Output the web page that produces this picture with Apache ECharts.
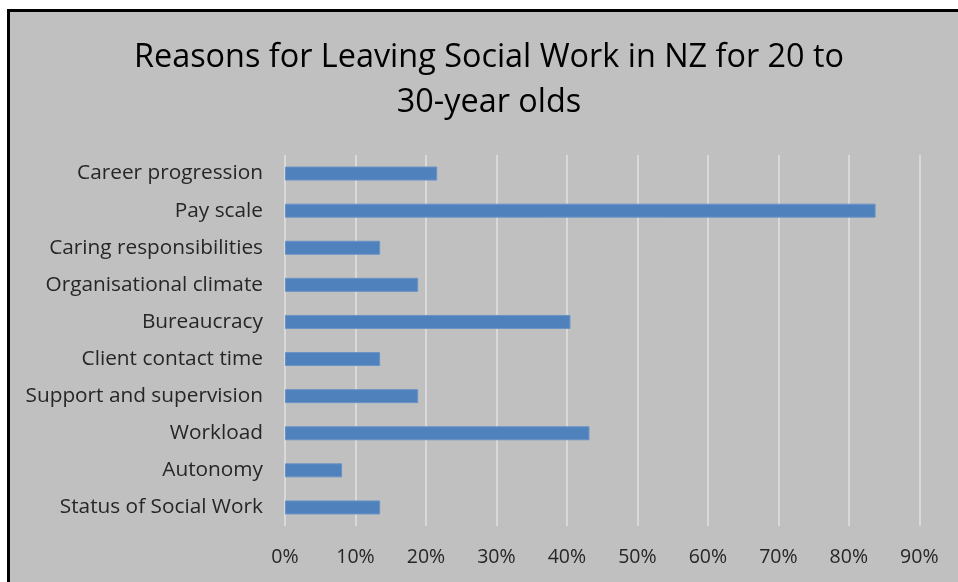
<!DOCTYPE html>
<html>
<head>
<meta charset="utf-8">
<title>Reasons for Leaving Social Work in NZ</title>
<script src="https://cdn.jsdelivr.net/npm/echarts@6/dist/echarts.min.js"></script>
<style>
  html, body { margin: 0; padding: 0; background: #ffffff; }
  #frame {
    position: absolute; left: 7px; top: 9px; right: 0; bottom: 0;
    background: #c0c0c0;
    border-left: 3px solid #000000;
    border-top: 3px solid #000000;
  }
  #chart { position: absolute; left: 0; top: 0; width: 958px; height: 582px; }
</style>
</head>
<body>
<div id="frame"></div>
<div id="chart"></div>
<script>
// Reasons given, top to bottom
const categories = [
  'Career progression',
  'Pay scale',
  'Caring responsibilities',
  'Organisational climate',
  'Bureaucracy',
  'Client contact time',
  'Support and supervision',
  'Workload',
  'Autonomy',
  'Status of Social Work'
];

// Share of respondents citing each reason (fraction)
const shares = [0.216, 0.838, 0.135, 0.189, 0.405, 0.135, 0.189, 0.432, 0.081, 0.135];

// Value axis tick labels
const tickLabels = ['0%', '10%', '20%', '30%', '40%', '50%', '60%', '70%', '80%', '90%'];

const fontFamily = '"Open Sans", "Noto Sans", sans-serif';

const chart = echarts.init(document.getElementById('chart'), null, { renderer: 'canvas' });

chart.setOption({
  backgroundColor: 'transparent',
  animation: false,
  title: {
    text: 'Reasons for Leaving Social Work in NZ for 20 to\n30-year olds',
    left: 484,
    textAlign: 'center',
    top: 30,
    textStyle: {
      fontFamily: fontFamily,
      fontSize: 32.4,
      fontWeight: 'normal',
      color: '#000000',
      lineHeight: 45
    }
  },
  grid: {
    left: 285,
    right: 38.7,
    top: 155,
    bottom: 56,
    containLabel: false
  },
  xAxis: {
    type: 'value',
    min: 0,
    max: 0.9,
    interval: 0.1,
    axisLine: { show: false },
    axisTick: { show: false },
    splitLine: { show: true, lineStyle: { color: '#d9d9d9', width: 2 } },
    axisLabel: {
      margin: 21,
      fontFamily: fontFamily,
      fontSize: 19.5,
      color: '#262626',
      formatter: function (v) {
        return tickLabels[Math.round(v * 10)];
      }
    }
  },
  yAxis: {
    type: 'category',
    data: categories,
    inverse: true,
    axisLine: { show: false },
    axisTick: { show: false },
    splitLine: { show: false },
    axisLabel: {
      margin: 22,
      fontFamily: fontFamily,
      fontSize: 20.8,
      color: '#262626'
    }
  },
  series: [{
    type: 'bar',
    data: shares,
    barWidth: 14,
    itemStyle: {
      color: '#4f81bd',
      borderColor: '#6a93c6',
      borderWidth: 1
    }
  }]
});
</script>
</body>
</html>
